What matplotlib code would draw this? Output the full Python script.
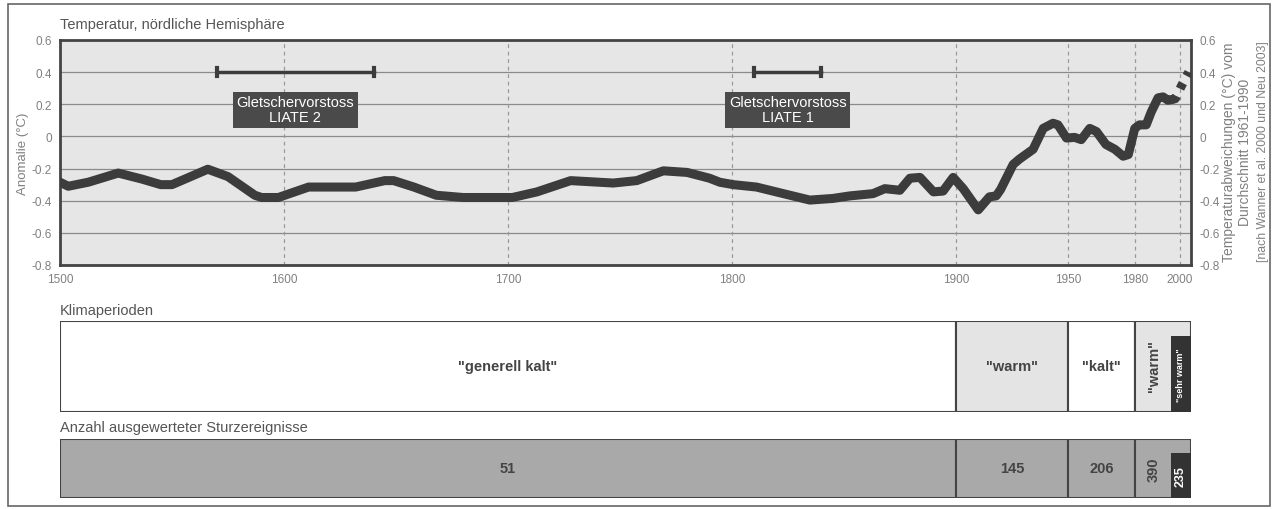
import matplotlib
matplotlib.use("Agg")
import matplotlib.pyplot as plt
from matplotlib.patches import Rectangle
import numpy as np

plt.rcParams['font.family'] = ['Liberation Sans', 'DejaVu Sans']

# ---- data ----
years = [1500, 1503.7, 1512.6, 1526, 1536.5, 1545, 1550, 1566, 1575, 1587, 1590, 1597.5,
         1611, 1632, 1645, 1649, 1658, 1668, 1680, 1702, 1713, 1728, 1747, 1757.5, 1769.4,
         1780, 1790, 1794.6, 1800.6, 1811, 1823, 1834.8, 1845, 1852.7, 1863, 1868.3, 1875,
         1879.5, 1884, 1890, 1894.3, 1898.8, 1903.3, 1910, 1915, 1918, 1920, 1925.6, 1928.5,
         1934.5, 1939, 1943.4, 1945.6, 1949.4, 1953, 1956, 1959.8, 1962.8, 1967, 1971, 1974.7,
         1977, 1979.9, 1982, 1985, 1987.3, 1990.3, 1992.5, 1994.7, 1996.5]
temps = [-0.285, -0.31, -0.285, -0.228, -0.265, -0.30, -0.30, -0.204, -0.25, -0.366, -0.38,
         -0.38, -0.315, -0.315, -0.275, -0.275, -0.315, -0.366, -0.38, -0.38, -0.345, -0.275,
         -0.29, -0.275, -0.214, -0.224, -0.26, -0.285, -0.30, -0.315, -0.356, -0.396, -0.386,
         -0.37, -0.356, -0.325, -0.335, -0.26, -0.255, -0.345, -0.34, -0.255, -0.325, -0.457,
         -0.376, -0.37, -0.33, -0.174, -0.14, -0.08, 0.05, 0.082, 0.072, -0.01, -0.006, -0.02,
         0.05, 0.03, -0.05, -0.08, -0.123, -0.113, 0.05, 0.072, 0.072, 0.154, 0.24, 0.246,
         0.225, 0.23]
trend_years = [1996.5, 1998, 2000.7, 2004]
trend_temps = [0.23, 0.235, 0.314, 0.40]

liate_names = ["Gletschervorstoss\nLIATE 2", "Gletschervorstoss\nLIATE 1"]
liate_start = [1570, 1810]
liate_end = [1640, 1840]

period_start = [1500, 1900, 1950, 1980]
period_end = [1900, 1950, 1980, 2005]
period_labels = ['"generell kalt"', '"warm"', '"kalt"', '"warm"']
sehr_warm = (1996, 2005)
events = [51, 145, 206, 390]
events_sehr_warm = 235

xticks = [1500, 1600, 1700, 1800, 1900, 1950, 1980, 2000]
yticks = [0.6, 0.4, 0.2, 0, -0.2, -0.4, -0.6, -0.8]
ytick_labels = ["0.6", "0.4", "0.2", "0", "-0.2", "-0.4", "-0.6", "-0.8"]

# ---- figure ----
W, H = 1274, 510
fig = plt.figure(figsize=(W / 100, H / 100), dpi=100)
fig.patch.set_facecolor("white")

def ax_at(x0, y0, x1, y1):
    return fig.add_axes([x0 / W, 1 - y1 / H, (x1 - x0) / W, (y1 - y0) / H])

# outer frame
fig.add_artist(Rectangle((8 / W, 1 - 507 / H), (1270 - 8) / W, (507 - 5) / H,
                         transform=fig.transFigure, fill=False, ec="#666666", lw=1.2))

XMIN, XMAX = 1500, 2005
dark = "#3c3c3c"
tickc = "#808080"

ax = ax_at(60, 41, 1191, 266)
ax.set_facecolor("#e6e6e6")
ax.set_xlim(XMIN, XMAX)
ax.set_ylim(-0.8, 0.6)
for y in yticks:
    ax.axhline(y, color="#8a8a8a", lw=0.9, zorder=1)
for x in xticks[1:]:
    ax.axvline(x, color="#9a9a9a", lw=0.9, ls=(0, (3, 3)), zorder=1)
ax.plot(years, temps, color=dark, lw=6.5, solid_capstyle="round", solid_joinstyle="round", zorder=3)
ax.plot(trend_years, trend_temps, color=dark, lw=6.5, ls=(0, (0.7, 0.9)), zorder=3)
for s, e, name in zip(liate_start, liate_end, liate_names):
    ax.plot([s, e], [0.4, 0.4], color=dark, lw=2.5, zorder=4)
    for xx in (s, e):
        ax.plot([xx, xx], [0.375, 0.425], color=dark, lw=3, zorder=4)
    ax.text((s + e) / 2, 0.165, name, ha="center", va="center", color="white", fontsize=10.5,
            linespacing=1.1, zorder=5,
            bbox=dict(boxstyle="square,pad=0.25", fc="#4a4a4a", ec="none"))
ax.set_xticks(xticks)
ax.set_xticklabels([str(x) for x in xticks], color=tickc, fontsize=8.5)
ax.set_yticks(yticks)
ax.set_yticklabels(ytick_labels, color=tickc, fontsize=8.5)
ax.tick_params(length=0, pad=6)
for sp in ax.spines.values():
    sp.set_color("#444444")
    sp.set_linewidth(2)
ax.set_ylabel("Anomalie (°C)", color=tickc, fontsize=9.5, labelpad=2)
axr = ax.twinx()
axr.set_ylim(-0.8, 0.6)
axr.set_yticks(yticks)
axr.set_yticklabels(ytick_labels, color=tickc, fontsize=8.5)
axr.tick_params(length=0, pad=6)
for sp in axr.spines.values():
    sp.set_visible(False)
fig.text(60 / W, 1 - 25 / H, "Temperatur, nördliche Hemisphäre", color="#555555", fontsize=10.5,
         va="center", ha="left")
fig.text(1229 / W, 1 - 152 / H, "Temperaturabweichungen (°C) vom", rotation=90,
         ha="center", va="center", color=tickc, fontsize=10)
fig.text(1245 / W, 1 - 152 / H, "Durchschnitt 1961-1990", rotation=90,
         ha="center", va="center", color=tickc, fontsize=10)
fig.text(1263 / W, 1 - 152 / H, "[nach Wanner et al. 2000 und Neu 2003]", rotation=90,
         ha="center", va="center", color=tickc, fontsize=8.8)

# ---- Klimaperioden ----
fig.text(60 / W, 1 - 311 / H, "Klimaperioden", color="#555555", fontsize=10.5, va="center", ha="left")
axk = ax_at(60, 322, 1191, 413)
axk.set_xlim(XMIN, XMAX)
axk.set_ylim(0, 1)
kfills = ["white", "#e4e4e4", "white", "#e4e4e4"]
for s, e, lab, fc in zip(period_start, period_end, period_labels, kfills):
    axk.add_patch(Rectangle((s, 0), e - s, 1, fc=fc, ec="#444444", lw=1.5))
    if e - s > 26:
        axk.text((s + e) / 2, 0.5, lab, ha="center", va="center", fontsize=10.5,
                 fontweight="bold", color="#444444")
    else:
        axk.text(s + (sehr_warm[0] - s) / 2 + 0.5, 0.52, lab, ha="center", va="center",
                 fontsize=10.5, fontweight="bold", color="#444444", rotation=90)
axk.add_patch(Rectangle((sehr_warm[0], 0), sehr_warm[1] - sehr_warm[0], 0.835,
                        fc="#333333", ec="none"))
axk.text((sehr_warm[0] + sehr_warm[1]) / 2, 0.42, '"sehr warm"', rotation=90, ha="center",
         va="center", fontsize=6.5, fontweight="bold", color="white")
axk.axis("off")

# ---- Sturzereignisse ----
fig.text(60 / W, 1 - 428 / H, "Anzahl ausgewerteter Sturzereignisse", color="#555555",
         fontsize=10.5, va="center", ha="left")
axs = ax_at(60, 440, 1191, 499)
axs.set_xlim(XMIN, XMAX)
axs.set_ylim(0, 1)
for s, e, n in zip(period_start, period_end, events):
    axs.add_patch(Rectangle((s, 0), e - s, 1, fc="#a9a9a9", ec="#444444", lw=1.5))
    if e - s > 26:
        axs.text((s + e) / 2, 0.5, str(n), ha="center", va="center", fontsize=10.5,
                 fontweight="bold", color="#444444")
    else:
        axs.text(s + (sehr_warm[0] - s) / 2 + 0.5, 0.5, str(n), ha="center", va="center",
                 fontsize=10.5, fontweight="bold", color="#444444", rotation=90)
axs.add_patch(Rectangle((sehr_warm[0], 0), sehr_warm[1] - sehr_warm[0], 0.76,
                        fc="#333333", ec="none"))
axs.text((sehr_warm[0] + sehr_warm[1]) / 2, 0.38, str(events_sehr_warm), rotation=90,
         ha="center", va="center", fontsize=9, fontweight="bold", color="white")
axs.axis("off")

fig.savefig("out.png", dpi=100, facecolor="white")
